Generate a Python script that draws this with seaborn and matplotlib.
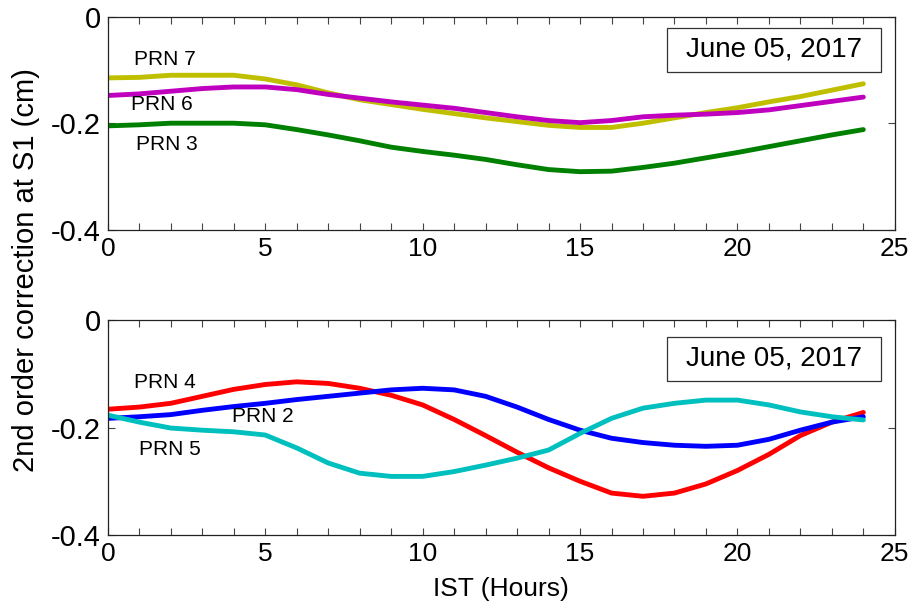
import numpy as np
import pandas as pd
import matplotlib
matplotlib.use("Agg")
import matplotlib.pyplot as plt
import seaborn as sns
from matplotlib.patches import Rectangle

# hourly readings, IST 0..24
hours = list(range(25))

# top panel
prn7 = [-0.115, -0.114, -0.110, -0.110, -0.110, -0.117, -0.128, -0.143, -0.156, -0.165,
        -0.174, -0.182, -0.190, -0.197, -0.204, -0.208, -0.208, -0.200, -0.190, -0.180,
        -0.171, -0.160, -0.150, -0.138, -0.126]
prn6 = [-0.148, -0.145, -0.140, -0.135, -0.132, -0.132, -0.137, -0.146, -0.153, -0.160,
        -0.166, -0.172, -0.180, -0.188, -0.195, -0.199, -0.195, -0.188, -0.185, -0.183,
        -0.180, -0.175, -0.167, -0.159, -0.151]
prn3 = [-0.205, -0.203, -0.200, -0.200, -0.200, -0.203, -0.212, -0.222, -0.233, -0.245,
        -0.253, -0.260, -0.268, -0.278, -0.287, -0.291, -0.290, -0.283, -0.275, -0.265,
        -0.255, -0.244, -0.233, -0.222, -0.212]

# bottom panel
prn4 = [-0.166, -0.162, -0.155, -0.142, -0.129, -0.120, -0.115, -0.118, -0.127, -0.140,
        -0.158, -0.185, -0.215, -0.246, -0.275, -0.300, -0.322, -0.328, -0.322, -0.305,
        -0.280, -0.250, -0.215, -0.190, -0.172]
prn2 = [-0.183, -0.180, -0.176, -0.168, -0.161, -0.155, -0.148, -0.142, -0.136, -0.130,
        -0.127, -0.130, -0.142, -0.162, -0.185, -0.205, -0.220, -0.228, -0.233, -0.235,
        -0.233, -0.222, -0.205, -0.190, -0.180]
prn5 = [-0.177, -0.190, -0.201, -0.205, -0.208, -0.214, -0.238, -0.266, -0.285, -0.291,
        -0.291, -0.282, -0.270, -0.257, -0.242, -0.211, -0.183, -0.164, -0.155, -0.149,
        -0.149, -0.158, -0.171, -0.180, -0.186]

date_label = "June 05, 2017"
xticks = [0, 5, 10, 15, 20, 25]
yticks = [-0.4, -0.2, 0]
yticklabels = ["-0.4", "-0.2", "0"]

sns.set_theme(style="ticks")
plt.rcParams["font.family"] = ["Liberation Sans", "DejaVu Sans"]
plt.rcParams["axes.unicode_minus"] = False
plt.rcParams["text.color"] = "black"
plt.rcParams["axes.labelcolor"] = "black"
plt.rcParams["xtick.labelcolor"] = "black"
plt.rcParams["ytick.labelcolor"] = "black"

fig = plt.figure(figsize=(9.14, 6.16), dpi=100)
ax1 = fig.add_axes([0.118, 0.627, 0.861, 0.346])
ax2 = fig.add_axes([0.118, 0.1315, 0.861, 0.349])

top_series = [(prn7, "#bfbf00"), (prn6, "#bf00bf"), (prn3, "#008000")]
bottom_series = [(prn4, "#ff0000"), (prn2, "#0000ff"), (prn5, "#00bfbf")]

for ax, series in [(ax1, top_series), (ax2, bottom_series)]:
    for vals, col in series:
        sns.lineplot(x=hours, y=vals, color=col, linewidth=3.5, ax=ax)
    ax.set_xlim(0, 25)
    ax.set_ylim(-0.4, 0)
    ax.set_xticks(xticks)
    ax.set_xticks(range(26), minor=True)
    ax.set_yticks(yticks)
    ax.set_yticklabels(yticklabels)
    ax.tick_params(axis="both", which="both", direction="in", top=True, right=True,
                   length=5, width=0.8, color="#444444")
    ax.tick_params(axis="x", labelsize=19, pad=5)
    ax.tick_params(axis="y", labelsize=21, pad=5)
    for sp in ax.spines.values():
        sp.set_linewidth(0.9)
        sp.set_color("#222222")

# date boxes
ax1.add_patch(Rectangle((0.710, 0.742), 0.273, 0.206, transform=ax1.transAxes,
                        fc="white", ec="#333333", lw=0.9, zorder=5))
ax1.text(0.847, 0.845, date_label, transform=ax1.transAxes, ha="center", va="center",
         fontsize=20, zorder=6)
ax2.add_patch(Rectangle((0.710, 0.716), 0.273, 0.205, transform=ax2.transAxes,
                        fc="white", ec="#333333", lw=0.9, zorder=5))
ax2.text(0.847, 0.819, date_label, transform=ax2.transAxes, ha="center", va="center",
         fontsize=20, zorder=6)

ax1.text(0.83, -0.081, "PRN 7", fontsize=15, va="center")
ax1.text(0.73, -0.165, "PRN 6", fontsize=15, va="center")
ax1.text(0.90, -0.240, "PRN 3", fontsize=15, va="center")
ax2.text(0.83, -0.117, "PRN 4", fontsize=15, va="center")
ax2.text(3.94, -0.180, "PRN 2", fontsize=15, va="center")
ax2.text(1.00, -0.240, "PRN 5", fontsize=15, va="center")

ax2.set_xlabel("IST (Hours)", fontsize=19, labelpad=8)
fig.text(0.028, 0.562, "2nd order correction at S1 (cm)", rotation=90,
         ha="center", va="center", fontsize=21)

fig.savefig("out.png", dpi=100, facecolor="white")
